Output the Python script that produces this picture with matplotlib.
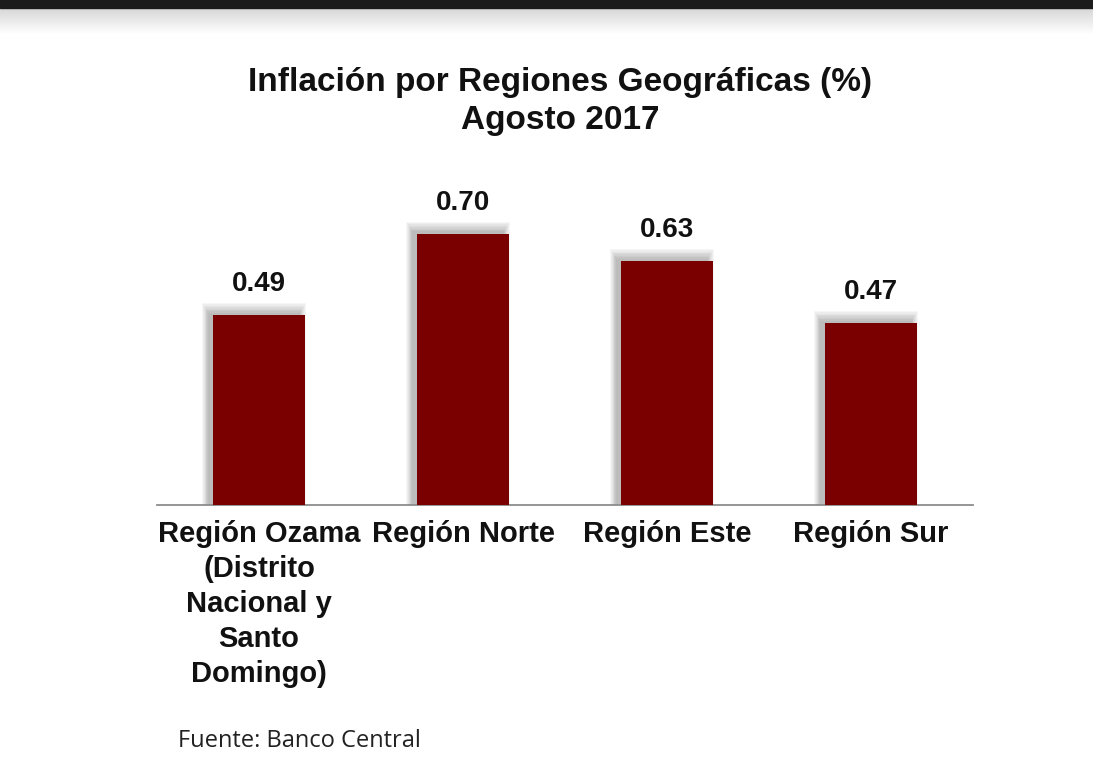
import numpy as np
import matplotlib.pyplot as plt
from matplotlib.patches import Rectangle

# data
regiones = ['Región Ozama\n(Distrito\nNacional y\nSanto\nDomingo)',
            'Región Norte', 'Región Este', 'Región Sur']
inflacion = [0.49, 0.70, 0.63, 0.47]
etiquetas = ['0.49', '0.70', '0.63', '0.47']

bar_color = '#7a0000'
W = 0.45

fig = plt.figure(figsize=(10.93, 7.81), dpi=100)
fig.patch.set_facecolor('white')

# dark strip and fade at the top
fig.patches.append(Rectangle((0, 1 - 8 / 781), 1, 8 / 781, transform=fig.transFigure,
                             color='#1c1c1c', zorder=0))
grad = np.linspace(0.84, 1.0, 60).reshape(-1, 1)
gax = fig.add_axes([0, 1 - 34 / 781, 1, 26 / 781], zorder=0)
gax.imshow(np.dstack([grad, grad, grad]), aspect='auto', extent=(0, 1, 0, 1))
gax.axis('off')

ax = fig.add_axes([157 / 1093, 276 / 781, 816 / 1093, 310 / 781])
x = np.arange(len(regiones))

# soft shadow behind the bars
for k in range(8):
    grow = 0.004 * k
    ax.bar(x - 0.025, np.array(inflacion) + 0.006 + grow * 0.9, width=W + 2 * grow,
           color='black', alpha=0.035, linewidth=0, zorder=1)

ax.bar(x, inflacion, width=W, color=bar_color, linewidth=0, zorder=3)

for xi, v, t in zip(x, inflacion, etiquetas):
    ax.text(xi, v + 0.08, t, ha='center', va='center', fontsize=20,
            fontweight='bold', family='Liberation Sans', color='#111111')

ax.set_xlim(-0.5, 3.5)
ax.set_ylim(0, 0.8)
ax.set_yticks([])
ax.set_xticks(x)
ax.set_xticklabels(regiones, fontsize=21, fontweight='bold', family='Liberation Sans',
                   color='#111111', linespacing=1.32)
ax.tick_params(axis='x', length=0, pad=11)
for s in ['top', 'right', 'left']:
    ax.spines[s].set_visible(False)
ax.spines['bottom'].set_color('#8c8c8c')
ax.spines['bottom'].set_linewidth(1.3)
ax.set_facecolor('none')

fig.text(560 / 1093, 1 - 82 / 781, 'Inflación por Regiones Geográficas (%)',
         ha='center', va='center', fontsize=24, fontweight='bold',
         family='Liberation Sans', color='#111111')
fig.text(560 / 1093, 1 - 120 / 781, 'Agosto 2017', ha='center', va='center',
         fontsize=24, fontweight='bold', family='Liberation Sans', color='#111111')

fig.text(178 / 1093, 1 - 741 / 781, 'Fuente: Banco Central', ha='left', va='center',
         fontsize=17, family='Open Sans', color='#222222')

fig.savefig('out.png', dpi=100)
